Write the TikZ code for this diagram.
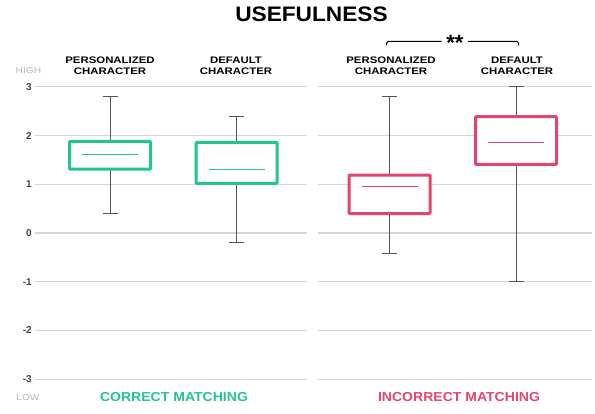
\documentclass[tikz,border=0pt]{standalone}
\usepackage{fontspec}
\setmainfont{Liberation Sans}
\newfontfamily\widefont[FakeStretch=1.2]{Liberation Sans}
\newfontfamily\titlefont[FakeStretch=1.08]{Liberation Sans}

\definecolor{matchgreen}{HTML}{22C493}
\definecolor{matchpink}{HTML}{E2456F}
\definecolor{whiskergray}{HTML}{555555}
\definecolor{gridgray}{HTML}{D6D6D6}
\definecolor{ticktext}{HTML}{444444}
\definecolor{endtext}{HTML}{B8B8B8}

\tikzset{
  gridline/.style={gridgray, line width=1.2pt},
  whisker/.style={whiskergray, line width=1pt},
  boxline/.style={line width=3pt, draw=#1, fill=white, rounded corners=0.8pt},
  medianline/.style={line width=1.1pt},
  header/.style={font=\widefont\bfseries\fontsize{9.5}{11}\selectfont, align=center},
  grouplabel/.style={font=\titlefont\bfseries\fontsize{13}{13}\selectfont},
  ticklabel/.style={font=\bfseries\fontsize{10}{10}\selectfont, text=ticktext, anchor=east, inner sep=1pt},
  endlabel/.style={font=\widefont\fontsize{8.5}{8.5}\selectfont, text=endtext},
}

% x, low, q1, median, q3, high, colour
\newcommand{\usefulbox}[7]{
  \draw[whisker] (#1,#2) -- (#1,#6);
  \draw[whisker] (#1-7.5,#2) -- (#1+7.5,#2);
  \draw[whisker] (#1-7.5,#6) -- (#1+7.5,#6);
  \draw[boxline=#7] (#1-40.5,#3) rectangle (#1+40.5,#5);
  \draw[medianline, #7] (#1-28,#4) -- (#1+28,#4);
}

\begin{document}
\begin{tikzpicture}[x=1pt,y=1pt]
\useasboundingbox (0,0) rectangle (595,413);

\node[font=\titlefont\bfseries\fontsize{21}{21}\selectfont] (title) at (311.5,398.5) {USEFULNESS};

\node[endlabel] (high) at (28.5,342) {HIGH};
\node[endlabel] (low) at (28,15.5) {LOW};

\node[header] (perscorrect) at (110,347.5) {PERSONALIZED\\CHARACTER};
\node[header] (defcorrect) at (236,347.5) {DEFAULT\\CHARACTER};
\node[header] (persincorrect) at (391,347.5) {PERSONALIZED\\CHARACTER};
\node[header] (defincorrect) at (517,347.5) {DEFAULT\\CHARACTER};

% significance bracket
\node[font=\bfseries\fontsize{22}{22}\selectfont, inner sep=0pt, anchor=north] (stars) at (455,378) {**};
\draw[black, line width=1pt, rounded corners=1.5pt] (386.7,367.5) -- (386.7,371.5) -- (441.5,371.5);
\draw[black, line width=1pt, rounded corners=1.5pt] (468,371.5) -- (518.5,371.5) -- (518.5,367.5);

\begin{scope}[yshift=180pt, y=48.7pt]
  \foreach \v in {-3,...,3} {
    \draw[gridline] (35,\v) -- (307,\v);
    \draw[gridline] (318,\v) -- (592,\v);
    \node[ticklabel] at (33,\v) {\ifnum\v<0 -\the\numexpr-\v\relax\else\v\fi};
  }
  \usefulbox{110}{0.4}{1.31}{1.62}{1.88}{2.8}{matchgreen}
  \usefulbox{236.5}{-0.2}{1.02}{1.31}{1.86}{2.39}{matchgreen}
  \usefulbox{389.5}{-0.42}{0.4}{0.96}{1.19}{2.8}{matchpink}
  \usefulbox{516}{-1}{1.41}{1.86}{2.39}{3}{matchpink}
\end{scope}

\node[grouplabel, text=matchgreen] (correct) at (174,15.5) {CORRECT MATCHING};
\node[grouplabel, text=matchpink] (incorrect) at (459,15.5) {INCORRECT MATCHING};
\end{tikzpicture}
\end{document}
